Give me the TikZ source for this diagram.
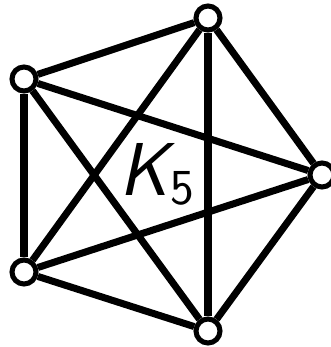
\documentclass[tikz,border=0pt]{standalone}
\begin{document}
\begin{tikzpicture}[x=0.03cm, y=-0.03cm,
    vertex/.style={circle, draw, fill=white, line width=4.3pt, minimum size=0.72cm, inner sep=0pt},
    edge/.style={line width=6pt}]
    \useasboundingbox (0,0) rectangle (330,347);
    % Wierzcholki
    \node[vertex] (top) at (208,18) {};
    \node[vertex] (ul) at (24,79) {};
    \node[vertex] (right) at (322,175) {};
    \node[vertex] (ll) at (24,272) {};
    \node[vertex] (bottom) at (208,331) {};

    % Krawedzie
    \draw[edge] (top) -- (ul);
    \draw[edge] (top) -- (right);
    \draw[edge] (top) -- (ll);
    \draw[edge] (top) -- (bottom);
    \draw[edge] (ul) -- (right);
    \draw[edge] (ul) -- (ll);
    \draw[edge] (ul) -- (bottom);
    \draw[edge] (right) -- (ll);
    \draw[edge] (right) -- (bottom);
    \draw[edge] (ll) -- (bottom);

    % Etykieta
    \node[anchor=base west, inner sep=0pt] (label) at (119,195)
        {\fontsize{64}{64}\selectfont\sffamily\slshape K\kern2pt\raisebox{-8.5pt}{\fontsize{43}{43}\selectfont\upshape 5}};
\end{tikzpicture}
\end{document}
